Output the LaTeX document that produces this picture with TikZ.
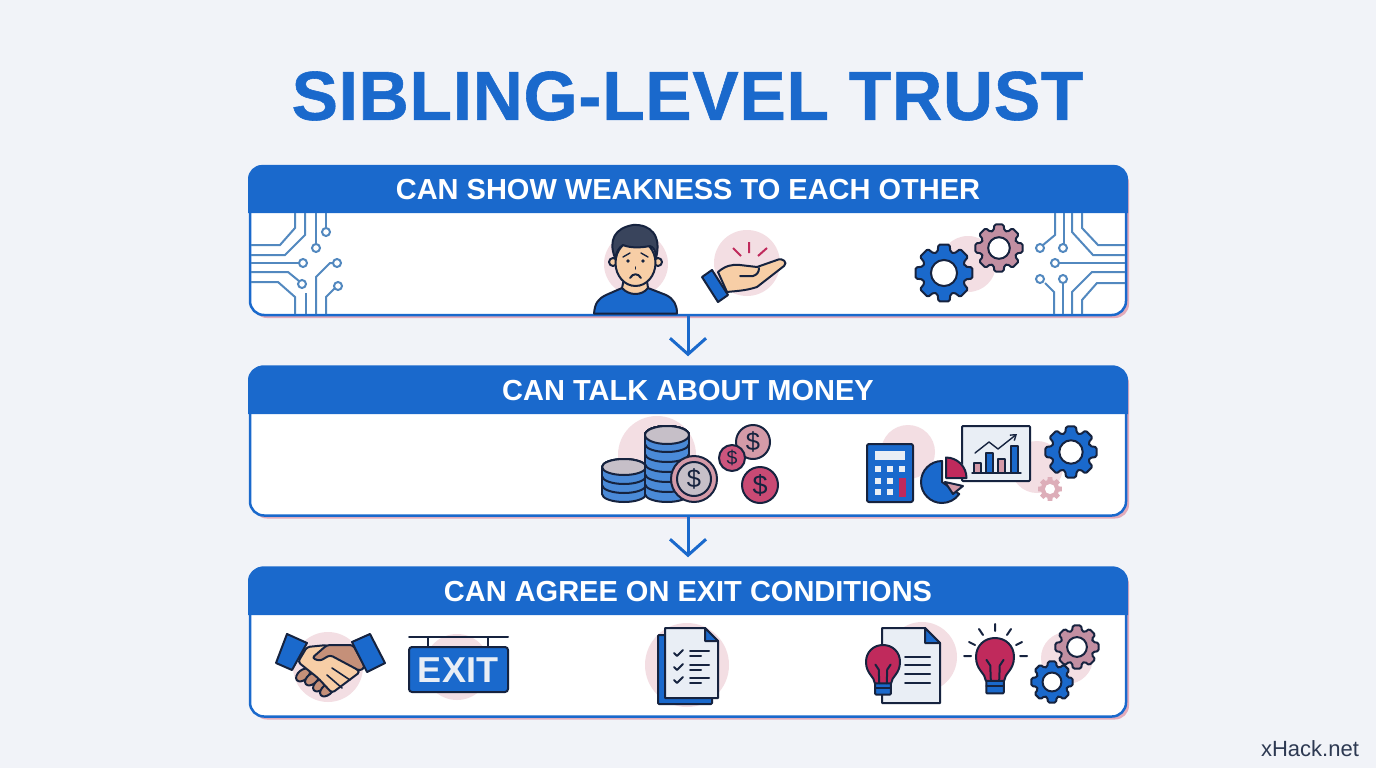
\documentclass[tikz,border=0pt]{standalone}
\usepackage{fontspec}
\setmainfont{Liberation Sans}
\newfontfamily\titlefont[UprightFont=* Bold,FakeBold=0.8,LetterSpace=1]{Liberation Sans}
\usetikzlibrary{arrows.meta}
\usetikzlibrary{shadows}
\definecolor{page_bg}{HTML}{F1F3F8}
\definecolor{main_blue}{HTML}{1A69CC}
\definecolor{mid_blue}{HTML}{4A8AD8}
\definecolor{trace_blue}{HTML}{5288BF}
\definecolor{ink}{HTML}{16233F}
\definecolor{soft_pink}{HTML}{F3DEE3}
\definecolor{edge_pink}{HTML}{E3ABBA}
\definecolor{mauve}{HTML}{C28FA2}
\definecolor{rose}{HTML}{D49AA8}
\definecolor{crimson}{HTML}{C02A5C}
\definecolor{skin}{HTML}{F7CEA6}
\definecolor{tan}{HTML}{C59079}
\definecolor{sheet}{HTML}{E9EEF5}
\definecolor{disc_top}{HTML}{C6BFC8}

\newcommand{\drawgear}[4]{
    \begin{scope}[shift={(#1,#2)},scale=#3]
        \draw [icon_style,fill=#4,rounded corners=1.5pt] (-17:0.76) \foreach \a in {0,45,...,315} { -- (\a-17:0.76) -- (\a-11:1) -- (\a+11:1) -- (\a+17:0.76) } -- cycle;
        \draw [icon_style,fill=white] (0,0) circle (0.45);
    \end{scope}
}
\newcommand{\drawcoin}[5]{
    \pgfmathsetmacro{\coinsize}{#4*1.5}
    \draw [icon_style,fill=#5] (#2,#3) circle (#4);
    \node [inner sep=0pt,text=ink,font=\fontsize{\coinsize}{\coinsize}\selectfont] (#1) at (#2,#3) {\$};
}
\newcommand{\drawdisc}[3]{
    \draw [icon_style,fill=mid_blue] (#1,#2+9) ellipse (#3 and 8);
    \fill [mid_blue] (#1-#3,#2) rectangle (#1+#3,#2+9);
    \draw [icon_style] (#1-#3,#2) -- (#1-#3,#2+9) (#1+#3,#2) -- (#1+#3,#2+9);
}
\newcommand{\drawbulb}[3]{
    \begin{scope}[shift={(#1,#2)},scale=#3]
        \draw [icon_style,fill=main_blue,rounded corners=1pt] (-0.46,1.2) rectangle (0.46,1.92);
        \draw [icon_style] (-0.46,1.55) -- (0.46,1.55);
        \draw [icon_style,fill=crimson] (-0.48,1.25) .. controls (-0.5,0.85) and (-1,0.7) .. (-1,0) .. controls (-1,-0.6) and (-0.55,-1) .. (0,-1) .. controls (0.55,-1) and (1,-0.6) .. (1,0) .. controls (1,0.7) and (0.5,0.85) .. (0.48,1.25) -- cycle;
        \draw [icon_style] (-0.22,1.25) -- (-0.25,0.45) -- (-0.45,0.15) (0.22,1.25) -- (0.25,0.45) -- (0.45,0.15);
    \end{scope}
}

\begin{document}
\begin{tikzpicture}[x=1pt, y=-1pt,
        card_style/.style={rectangle,draw=main_blue,line width=2.5pt,fill=white,rounded corners=14pt,minimum width=876pt,minimum height=149pt,inner sep=0pt,general shadow={fill=edge_pink,shadow xshift=3pt,shadow yshift=-3pt}},
        bar_style/.style={fill=main_blue},
        head_style/.style={text=white,inner sep=0pt,font=\fontsize{29}{32}\selectfont\bfseries},
        edge_style/.style={draw=main_blue,line width=3pt,-{Straight Barb[length=16pt,width=36pt,line width=3pt]},shorten >=9pt},
        trace_style/.style={draw=trace_blue,line width=2pt},
        pad_style/.style={draw=trace_blue,line width=2pt,fill=white},
        icon_style/.style={draw=ink,line width=2pt,line join=round,line cap=round},
        halo_style/.style={fill=soft_pink}]

        \useasboundingbox (0,0) rectangle (1376,768);
        \fill [page_bg] (0,0) rectangle (1376,768);

        \node [text=main_blue,inner sep=0pt,font=\fontsize{69.5}{74}\selectfont\titlefont] (title) at (687.5,96) {SIBLING-LEVEL TRUST};

        \node [card_style] (card1) at (688,240.5) {};
        \node [card_style] (card2) at (688,441) {};
        \node [card_style] (card3) at (688,642) {};

        \fill [bar_style] (248,213) [rounded corners=14pt] -- (248,165) -- (1128,165) [sharp corners] -- (1128,213) -- cycle;
        \fill [bar_style] (248,414) [rounded corners=14pt] -- (248,366) -- (1128,366) [sharp corners] -- (1128,414) -- cycle;
        \fill [bar_style] (248,615) [rounded corners=14pt] -- (248,567) -- (1128,567) [sharp corners] -- (1128,615) -- cycle;

        \node [head_style] (head1) at (688,189.5) {CAN SHOW WEAKNESS TO EACH OTHER};
        \node [head_style] (head2) at (688,390.5) {CAN TALK ABOUT MONEY};
        \node [head_style] (head3) at (688,591.5) {CAN AGREE ON EXIT CONDITIONS};

        \draw [edge_style] (card1.south) -- (card2.north);
        \draw [edge_style] (card2.south) -- (card3.north);

        % traces, left
        \draw [trace_style] (251,245) -- (280,245) -- (295,228) -- (295,213);
        \draw [trace_style] (251,255) -- (285,255) -- (305,235) -- (305,213);
        \draw [trace_style] (316,213) -- (316,244);
        \draw [trace_style] (326,213) -- (326,228);
        \draw [trace_style] (251,263) -- (299,263);
        \draw [trace_style] (251,272) -- (288,272) -- (299,281);
        \draw [trace_style] (251,282) -- (278,282) -- (295,297) -- (295,314);
        \draw [trace_style] (306,293) -- (306,314);
        \draw [trace_style] (316,314) -- (316,277) -- (330,263) -- (333,263);
        \draw [trace_style] (326,314) -- (326,297) -- (335,288);
        \foreach \px/\py in {316/248,326/232,303/263,302/284,337/263,338/286}
            \draw [pad_style] (\px,\py) circle (4);

        % traces, right
        \draw [trace_style] (1055,213) -- (1055,235) -- (1043,245);
        \draw [trace_style] (1064,213) -- (1064,244);
        \draw [trace_style] (1072,213) -- (1072,232) -- (1093,255) -- (1125,255);
        \draw [trace_style] (1082,213) -- (1082,228) -- (1098,245) -- (1125,245);
        \draw [trace_style] (1059,263) -- (1125,263);
        \draw [trace_style] (1063,283) -- (1063,314);
        \draw [trace_style] (1045,283) -- (1054,292) -- (1054,314);
        \draw [trace_style] (1072,314) -- (1072,292) -- (1092,272) -- (1125,272);
        \draw [trace_style] (1082,314) -- (1082,300) -- (1097,283) -- (1125,283);
        \foreach \px/\py in {1040/248,1063/248,1055/263,1040/279,1063/279}
            \draw [pad_style] (\px,\py) circle (4);

        % person
        \fill [halo_style] (636,264) circle (32);
        \draw [icon_style,fill=main_blue] (594,313.5) .. controls (595,303) and (598,299) .. (606,295) -- (622,288) -- (648,288) -- (666,295) .. controls (674,299) and (677,305) .. (677,313.5) -- cycle;
        \draw [icon_style,fill=skin] (625,274) -- (646,274) -- (648,288) .. controls (642,296) and (629,296) .. (622,288) -- cycle;
        \draw [icon_style,fill=skin] (613,262) circle (4) (658,262) circle (4);
        \draw [icon_style,fill=skin] (635.5,263) ellipse (20 and 23);
        \draw [icon_style,fill=ink!85!white] (615,258) .. controls (608,240) and (615,228) .. (633,225) .. controls (650,224) and (662,235) .. (656,258) .. controls (656,250) and (653,247) .. (650,246) .. controls (640,248) and (630,248) .. (623,245) .. controls (618,248) and (617,252) .. (615,258) -- cycle;
        \fill [ink] (628,261) circle (1.8) (643,261) circle (1.8);
        \draw [icon_style,line width=1.4pt] (623,257) -- (630,253) (648,257) -- (641,253);
        \draw [icon_style,line width=1.4pt] (635.5,267) -- (635.5,269);
        \draw [icon_style] (630,278) .. controls (633,273) and (638,273) .. (641,278);

        % open hand
        \fill [halo_style] (747,263) circle (33);
        \draw [crimson,line width=2pt] (733,248) -- (741,256) (749,242) -- (749,253) (767,248) -- (758,256);
        \draw [icon_style,fill=skin] (718,272) .. controls (725,266) and (732,264) .. (740,265) -- (757,267) -- (777,260) .. controls (783,257) and (788,263) .. (784,266) -- (757,287) .. controls (745,291) and (735,291) .. (727,292) -- cycle;
        \draw [icon_style] (740,276) -- (753,276) .. controls (757,275) and (759,272) .. (759,268);
        \draw [icon_style,fill=main_blue] (702,277) -- (712,270) -- (728,295) -- (718,302) -- cycle;

        % gears, first card
        \fill [halo_style] (968,264) circle (28);
        \drawgear{944}{273}{29}{main_blue}
        \drawgear{999}{248}{24}{mauve}

        % money
        \fill [halo_style] (657,455) circle (39);
        \foreach \dy in {485,476,467}
            \drawdisc{624}{\dy}{22}
        \draw [icon_style,fill=disc_top] (624,467) ellipse (22 and 8);
        \foreach \dy in {485,475,465,455,445,435}
            \drawdisc{667}{\dy}{22}
        \draw [icon_style,fill=disc_top] (667,435) ellipse (22 and 9);
        \draw [icon_style,fill=rose] (694,479) circle (23);
        \drawcoin{coin_big}{694}{479}{17}{disc_top}
        \drawcoin{coin_a}{753}{442}{17}{rose}
        \drawcoin{coin_b}{732}{458}{13}{crimson!80!white}
        \drawcoin{coin_c}{760}{485}{18}{crimson!85!white}

        % calculator
        \fill [halo_style] (908,452) circle (27);
        \draw [icon_style,fill=main_blue,rounded corners=2pt] (867,444) rectangle (913,502);
        \draw [icon_style,draw=none,fill=sheet] (875,451) rectangle (905,460);
        \foreach \kx/\ky in {878/469,890/469,902/469,878/481,890/481,878/492,890/492}
            \fill [sheet] (\kx-3,\ky-3) rectangle (\kx+3,\ky+3);
        \fill [crimson] (899,478) rectangle (906,497);

        % chart and gears
        \fill [halo_style] (1037,467) circle (26);
        \draw [icon_style,fill=sheet,rounded corners=1pt] (962,426) rectangle (1030,481);
        \draw [icon_style,line width=1.2pt,fill=rose] (974,463) rectangle (981,473);
        \draw [icon_style,line width=1.2pt,fill=main_blue] (986,453) rectangle (993,473);
        \draw [icon_style,line width=1.2pt,fill=rose] (998,459) rectangle (1005,473);
        \draw [icon_style,line width=1.2pt,fill=main_blue] (1011,446) rectangle (1018,473);
        \draw [icon_style,line width=1.4pt] (972,473) -- (1021,473);
        \draw [icon_style,line width=1.4pt,-{Straight Barb[length=5pt,width=7pt]}] (975,453) -- (989,442) -- (998,449) -- (1017,434);
        \drawgear{1071}{452}{26}{main_blue}
        \begin{scope}[shift={(1050,489)},scale=12]
            \fill [rose!80!white] (-17:0.76) \foreach \a in {0,45,...,315} { -- (\a-17:0.76) -- (\a-11:1) -- (\a+11:1) -- (\a+17:0.76) } -- cycle;
            \fill [white] (0,0) circle (0.42);
        \end{scope}

        % pie
        \draw [icon_style,fill=main_blue] (942,482) -- (942,461) arc[start angle=-90,end angle=-325,radius=21] -- cycle;
        \draw [icon_style,fill=rose] (945,482) -- (963,486) -- (953,494) -- cycle;
        \draw [white,line width=1.5pt,fill=crimson] (945.5,478) -- (945.5,457) arc[start angle=-90,end angle=0,radius=21] -- cycle;
        \draw [icon_style,fill=crimson] (946,478) -- (946,457.5) arc[start angle=-90,end angle=0,radius=20.5] -- cycle;

        % handshake
        \fill [halo_style] (328,667) circle (35);
        \foreach \fx/\fy in {303/675,312/679,320/685,327/690}
            \draw [icon_style,fill=tan,rotate around={40:(\fx,\fy)}] (\fx,\fy) ellipse (8 and 5);
        \draw [icon_style,fill=skin,rounded corners=3pt] (307,647) -- (327,645) -- (360,672) -- (332,693) -- (318,678) -- (298,662) -- cycle;
        \draw [icon_style,fill=tan,rounded corners=3pt] (353,645) -- (327,645) -- (312,658) -- (320,661) -- (330,655) -- (360,671) -- (365,667) -- cycle;
        \draw [icon_style,line width=1.6pt] (332,668) -- (350,680) (327,675) -- (342,688);
        \draw [icon_style,fill=main_blue] (287,634) -- (307,643) -- (292,670) -- (276,663) -- cycle;
        \draw [icon_style,fill=main_blue] (352,642) -- (370,634) -- (385,663) -- (367,672) -- cycle;

        % exit sign
        \fill [halo_style] (457,667) circle (33);
        \draw [icon_style] (409,637) -- (508,637) (428,637) -- (428,647) (488,637) -- (488,647);
        \draw [icon_style,fill=main_blue,rounded corners=3pt] (409,647) rectangle (508,692);
        \node [text=sheet,inner sep=0pt,font=\fontsize{36}{38}\selectfont\bfseries] (exit) at (458,670) {EXIT};

        % checklist
        \fill [halo_style] (687,665) circle (42);
        \draw [icon_style,fill=main_blue,rounded corners=1pt] (658,635) rectangle (712,704);
        \draw [icon_style,fill=sheet] (665,628) -- (705,628) -- (718,641) -- (718,698) -- (665,698) -- cycle;
        \draw [icon_style,fill=main_blue] (705,628) -- (718,641) -- (705,641) -- cycle;
        \foreach \ly in {653,667,680} {
            \draw [icon_style] (674,\ly) -- (677,\ly+3) -- (683,\ly-3);
            \draw [icon_style] (690,\ly-2) -- (709,\ly-2) (690,\ly+3) -- (701,\ly+3);
        }

        % document with bulb
        \fill [halo_style] (922,657) circle (35);
        \draw [icon_style,fill=sheet] (882,628) -- (925,628) -- (940,643) -- (940,703) -- (882,703) -- cycle;
        \draw [icon_style,fill=main_blue] (925,628) -- (940,643) -- (925,643) -- cycle;
        \draw [icon_style] (905,657) -- (930,657) (905,665) -- (930,665) (905,674) -- (930,674) (905,683) -- (930,683);
        \drawbulb{883}{662}{17}

        % bulb with rays
        \drawbulb{995}{657}{19}
        \draw [icon_style] (964,656) -- (971,656) (969,642) -- (975,645) (979,629) -- (983,635) (995,624) -- (995,631) (1011,629) -- (1007,635) (1022,642) -- (1016,645) (1020,656) -- (1027,656);

        % gears, last card
        \fill [halo_style] (1067,658) circle (26);
        \drawgear{1077}{647}{22}{mauve}
        \drawgear{1052}{682}{21}{main_blue}

        \node [text=ink!90!white,inner sep=0pt,font=\fontsize{22}{24}\selectfont] (mark) at (1310,749) {xHack.net};

        \end{tikzpicture}
\end{document}
